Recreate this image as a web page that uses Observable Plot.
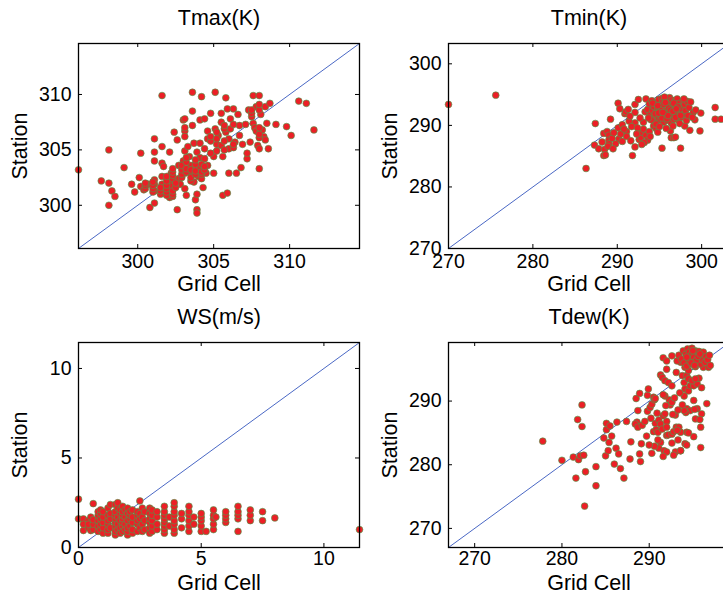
<!DOCTYPE html>
<html><head><meta charset="utf-8">
<script src="https://cdn.jsdelivr.net/npm/d3@7"></script>
<script src="https://cdn.jsdelivr.net/npm/@observablehq/plot@0.6"></script>
<style>
html,body{margin:0;padding:0;background:#fff;overflow:hidden;width:723px;height:598px}
#root{position:relative;width:723px;height:598px;overflow:hidden;background:#fff}
#root svg{position:absolute;overflow:visible}
</style></head><body><div id="root"></div>
<script>
// ---- titles / labels ----
const titles = ["Tmax(K)", "Tmin(K)", "WS(m/s)", "Tdew(K)"];
const xLabel = "Grid Cell";
const yLabel = "Station";

// ---- axis domains and ticks ----
const tmaxDomain = [296.1, 314.6];
const tminDomain = [270, 303.3];
const wsDomain = [0, 11.45];
const tdewDomain = [267.0, 299.2];
const tmaxTicks = [300, 305, 310];
const tminTicks = [270, 280, 290, 300];
const wsTicks = [0, 5, 10];
const tdewTicks = [270, 280, 290];

// ---- data: [grid cell, station] ----
const tmaxPoints = [[296.1,303.2],[297.6,302.2],[298.1,305.0],[298.1,302.0],[298.3,301.3],[298.5,300.8],[298.1,300.0],[299.1,303.4],[299.6,301.9],[299.8,301.2],[300.2,304.7],[300.1,302.5],[300.2,301.7],[300.4,301.4],[300.7,301.9],[300.8,299.8],[301.1,306.0],[301.1,304.8],[301.1,304.0],[301.1,302.3],[301.1,301.9],[301.1,301.3],[301.1,300.2],[301.6,309.9],[301.6,305.3],[301.6,303.8],[301.6,302.6],[301.6,301.9],[301.6,301.1],[301.7,303.5],[302.0,301.4],[302.1,300.7],[302.1,304.8],[302.2,302.9],[302.2,302.1],[302.2,301.7],[302.3,300.8],[302.4,306.6],[302.6,305.9],[302.6,299.6],[302.7,303.6],[302.7,302.4],[302.8,301.9],[303.0,304.0],[303.0,307.7],[303.1,306.7],[303.1,304.9],[303.1,302.9],[303.1,301.5],[303.2,300.9],[303.3,305.3],[303.4,304.4],[303.5,303.6],[303.5,302.9],[303.6,310.2],[303.6,308.5],[303.6,307.2],[303.7,302.1],[303.7,305.6],[303.8,300.5],[303.9,303.4],[303.9,304.8],[303.9,301.0],[303.9,299.6],[303.9,299.3],[304.0,302.6],[304.1,307.7],[304.1,305.6],[304.1,304.3],[304.1,303.4],[304.2,309.8],[304.3,301.6],[304.4,307.8],[304.4,305.1],[304.4,304.2],[304.5,302.9],[304.6,306.7],[304.6,306.0],[304.6,303.6],[304.8,308.3],[305.0,304.4],[305.0,302.9],[305.1,310.2],[305.1,306.9],[305.2,305.5],[305.3,306.3],[305.5,307.5],[305.5,305.4],[305.5,308.3],[305.6,304.4],[305.6,300.9],[305.8,309.7],[305.8,306.6],[305.9,308.7],[305.9,301.1],[306.0,306.0],[306.0,305.1],[306.0,302.9],[306.1,306.9],[306.1,307.8],[306.3,308.7],[306.4,305.7],[306.5,302.9],[306.6,308.2],[306.7,306.3],[306.7,307.2],[306.8,303.4],[306.9,305.5],[307.1,307.3],[307.2,304.2],[307.2,304.7],[307.3,308.6],[307.4,305.7],[307.6,309.9],[307.6,307.4],[307.7,307.0],[307.8,308.9],[307.8,306.7],[307.9,305.4],[308.0,305.1],[308.0,309.9],[308.0,303.3],[308.1,308.2],[308.2,306.8],[308.3,306.2],[308.4,308.9],[308.4,305.9],[308.5,307.4],[308.6,305.1],[308.7,309.2],[309.1,307.3],[309.8,307.1],[310.1,306.3],[310.6,309.4],[311.1,309.2],[311.6,306.8],
[300.5,301.5],[300.5,301.8],[300.5,302.0],[301.0,301.2],[301.0,301.5],[301.0,301.8],[301.0,302.1],[301.5,301.0],[301.5,301.3],[301.5,301.6],[301.9,300.9],[301.9,301.2],[301.9,301.5],[301.9,301.8],[301.9,302.2],[301.9,302.6],[302.3,301.0],[302.3,301.3],[302.3,302.4],[302.3,302.7],[302.3,303.0],[302.3,303.3],[302.5,301.6],[302.5,302.0],[302.9,302.5],[302.9,302.8],[302.9,303.2],[302.9,303.6],[303.2,303.0],[303.2,303.3],[303.2,303.9],[303.2,304.3],[303.5,302.2],[303.5,302.5],[303.5,303.2],[303.8,302.8],[303.8,303.1],[303.8,303.7],[303.8,304.1],[304.2,302.4],[304.2,302.8],[304.2,303.0],[304.2,303.7],[304.4,303.2],[304.4,303.5],[304.8,304.7],[304.8,305.8],[304.8,306.2],[305.2,304.9],[305.2,306.0],[305.2,306.6],[305.7,305.0],[305.7,305.8],[305.7,306.9],[305.7,307.2],[306.3,305.2],[306.3,305.5],[306.3,307.3],[307.5,308.0],[307.5,308.3],[307.5,308.6],[308.0,306.1],[308.0,306.4],[308.0,307.0],[308.0,308.6],[308.0,309.1],[303.1,307.0],[303.1,306.2],[303.1,307.8]];

const tminPoints = [[270.0,293.4],[275.6,294.9],[286.3,283.0],[287.4,290.3],[287.3,286.8],[287.8,286.2],[288.5,286.1],[288.4,285.1],[288.6,285.2],[288.4,288.7],[288.8,289.0],[289.0,288.4],[289.0,287.6],[289.0,287.0],[289.4,287.9],[290.1,293.6],[290.2,287.8],[290.1,289.6],[290.6,290.1],[290.6,287.4],[290.9,291.9],[291.0,292.2],[291.1,289.0],[291.1,288.2],[291.6,287.5],[291.8,285.1],[292.1,286.5],[292.1,290.4],[292.1,292.1],[292.1,293.4],[292.5,294.2],[292.6,287.7],[292.8,288.0],[292.9,288.9],[293.1,290.5],[293.1,289.4],[293.3,292.2],[293.4,288.4],[293.4,294.3],[293.8,289.0],[294.0,292.9],[294.2,291.0],[295.3,286.3],[296.4,288.0],[296.7,288.0],[296.3,289.1],[297.5,286.3],[298.0,289.9],[298.6,289.2],[299.0,292.1],[299.2,290.9],[299.9,292.0],[299.8,289.1],[301.6,292.9],[301.6,291.0],[302.3,291.0],
[288.2,287.3],[288.9,286.6],[289.6,288.8],[289.8,287.0],[290.4,288.6],[290.8,289.4],[291.4,290.7],[291.7,289.8],[291.5,291.5],[292.4,289.6],[292.7,291.2],[292.3,288.6],[293.6,287.6],[293.9,288.2],[294.3,289.9],[294.6,289.5],[294.8,288.9],[293.2,287.2],[292.9,286.9],[289.2,291.0],[290.3,292.7],[291.3,292.6],[289.5,286.2],
[293.6,292.6],[293.8,293.5],[293.9,291.7],[294.1,294.0],[294.2,292.4],[294.3,293.1],[294.4,291.4],[294.5,290.6],[294.6,292.0],[294.7,293.7],[294.8,292.8],[294.9,291.2],[294.9,294.2],[295.0,292.3],[295.1,293.3],[295.1,290.9],[295.2,291.8],[295.3,292.9],[295.3,294.4],[295.4,291.4],[295.4,293.8],[295.5,292.5],[295.5,290.5],[295.6,291.9],[295.6,293.1],[295.7,292.2],[295.7,294.0],[295.8,291.6],[295.8,293.5],[295.9,292.7],[295.9,290.8],[296.0,292.0],[296.0,293.9],[296.1,291.3],[296.1,293.2],[296.2,292.4],[296.2,294.5],[296.3,291.8],[296.3,293.6],[296.4,292.9],[296.4,290.4],[296.5,292.2],[296.5,294.1],[296.6,291.5],[296.6,293.3],[296.7,292.6],[296.7,291.0],[296.8,293.9],[296.8,292.0],[296.9,292.9],[297.0,291.6],[297.0,293.5],[297.1,292.3],[297.1,294.3],[297.2,290.9],[297.3,292.8],[297.3,291.9],[297.4,293.6],[297.5,292.2],[297.6,291.3],[297.6,293.1],[297.7,292.6],[297.8,294.0],[297.9,291.8],[298.0,293.4],[298.1,292.4],[298.2,290.8],[298.3,293.9],[298.4,291.6],[298.5,292.9],[294.0,290.9],[294.6,290.2],[295.0,289.8],[295.8,289.5],[296.6,289.9],[297.4,290.3],[296.9,288.1],[293.7,291.2],[294.2,293.6],[295.6,294.6],[297.9,294.3],[298.9,291.3],[298.7,293.8],[299.3,292.5],
[295.2,292.6],[295.5,293.4],[295.8,292.4],[296.1,292.8],[296.4,291.9],[296.7,293.6],[296.9,291.3],[295.3,291.2],[295.9,291.1],[296.3,292.5],[294.8,293.2],[294.5,291.9],[297.2,293.0],[297.5,291.6],[296.0,291.6],[295.7,293.7],[294.9,292.0],[295.4,292.1],[296.6,292.3],[297.0,292.7]];

const wsPoints = [[0,2.7],[0,1.6],[0.2,0.95],[0.2,1.6],[0.2,1.3],[0.4,1.5],[0.4,1.1],[0.4,1.3],[0.5,1.7],[0.5,0.95],[0.6,2.45],[0.6,1.0],[0.6,1.3],[0.6,1.55],
[0.8,0.9],[0.8,1.2],[0.8,1.5],[0.8,1.8],[0.8,2.0],[0.9,1.0],[0.9,1.3],[0.9,1.6],[0.9,1.9],[0.9,2.1],[1.0,0.8],[1.0,1.1],[1.0,1.4],[1.0,1.7],[1.0,2.0],
[1.2,0.8],[1.2,1.0],[1.2,1.3],[1.2,1.5],[1.2,1.8],[1.2,2.2],[1.3,1.1],[1.3,1.6],[1.3,2.4],[1.3,1.9],
[1.5,0.7],[1.5,0.9],[1.5,1.2],[1.5,1.4],[1.5,1.6],[1.5,1.8],[1.5,2.0],[1.5,2.4],[1.6,1.0],[1.6,1.3],[1.6,1.7],[1.6,2.2],[1.6,2.5],
[1.7,0.8],[1.7,1.1],[1.7,1.5],[1.7,1.9],[1.7,2.1],[1.8,0.9],[1.8,1.2],[1.8,1.4],[1.8,1.6],[1.8,1.8],[1.8,2.0],[1.8,2.3],[1.9,1.0],[1.9,1.3],[1.9,1.7],[1.9,2.1],
[2.0,0.7],[2.0,0.9],[2.0,1.1],[2.0,1.5],[2.0,1.9],[2.0,2.2],[2.1,1.2],[2.1,1.6],[2.1,1.8],[2.1,2.0],[2.2,0.8],[2.2,1.0],[2.2,1.4],[2.2,1.7],[2.2,2.1],
[2.4,0.9],[2.4,1.3],[2.4,1.5],[2.4,1.8],[2.4,2.0],[2.5,1.1],[2.5,1.6],[2.5,2.6],[2.5,1.9],[2.6,0.9],[2.6,1.3],[2.6,1.7],[2.6,2.2],[2.7,1.0],[2.7,1.5],[2.7,2.0],
[2.9,0.8],[2.9,1.1],[2.9,1.4],[2.9,1.6],[2.9,1.9],[2.9,2.2],[3.0,0.9],[3.0,1.2],[3.0,1.5],[3.0,1.8],[3.0,2.1],[3.2,1.0],[3.2,1.3],[3.2,1.7],[3.2,2.0],
[3.5,0.8],[3.5,1.0],[3.5,1.2],[3.5,1.4],[3.5,1.6],[3.5,1.8],[3.5,2.0],[3.5,2.3],[3.7,1.7],[3.7,1.2],
[3.9,0.8],[3.9,1.0],[3.9,1.3],[3.9,1.5],[3.9,1.8],[3.9,2.0],[3.9,2.3],[3.9,2.5],[4.2,1.1],[4.2,1.6],[4.2,1.9],
[4.5,0.9],[4.5,1.2],[4.5,1.5],[4.5,1.8],[4.5,2.0],[4.5,2.3],[4.7,1.7],[4.7,1.3],[5.0,0.9],[5.0,1.2],[5.0,1.5],[5.0,1.7],[5.0,1.9],[5.2,0.9],
[5.5,1.0],[5.5,1.3],[5.5,1.6],[5.5,1.8],[5.5,2.1],[5.6,1.7],[6.0,1.4],[6.0,1.6],[6.0,1.8],[6.0,2.0],[6.5,0.9],[6.5,1.6],[6.5,1.8],[6.5,2.0],[6.5,2.3],
[7.0,1.5],[7.0,1.8],[7.0,2.1],[7.5,1.5],[7.5,2.0],[8.0,1.65],[11.45,1.0]];

const tdewPoints = [[277.8,283.7],[280.0,280.7],[281.3,281.2],[281.9,280.8],[282.1,281.4],[282.5,281.5],[282.3,289.4],[281.8,287.1],[282.3,286.0],[282.7,278.9],[281.6,277.9],[282.6,273.5],[283.9,279.7],[283.9,276.7],[284.8,284.2],[285.0,281.4],[285.1,286.5],[285.1,285.5],[285.5,286.1],[285.4,283.5],[285.7,284.5],[286.3,286.7],[286.0,280.1],[286.2,282.6],[286.5,281.7],[286.7,279.4],[285.3,282.2],[287.1,277.9],[287.4,286.8],[287.9,283.6],[287.8,280.9],[288.5,290.4],[288.6,286.7],[288.4,286.4],[288.7,285.9],[288.9,291.2],[289.1,283.3],[288.9,281.7],[289.0,280.5],[288.7,288.5],[289.2,286.2],[289.8,290.9],[289.8,288.4],[290.1,289.0],[290.3,289.5],[290.5,290.6],[290.6,290.2],[290.7,286.5],[290.5,285.2],[291.6,287.7],
[291.1,287.0],[291.3,286.4],[290.8,285.5],[291.0,285.1],[291.5,285.6],[291.8,288.0],[292.0,286.8],[292.0,285.9],[291.3,283.5],[291.1,282.6],[291.7,282.2],[292.0,284.6],[292.2,284.7],[292.6,284.8],[292.8,285.2],[293.1,285.9],[293.4,285.9],[293.0,287.8],[292.3,290.2],[292.4,289.4],[292.6,289.8],[291.8,290.8],[291.6,291.0],[290.7,290.4],[289.9,291.9],
[293.6,285.1],[294.1,283.3],[293.6,282.2],[293.0,282.0],[292.0,282.0],[294.3,288.8],[294.7,288.5],[295.1,290.1],[294.2,288.2],[294.0,288.5],[295.5,288.8],[295.3,287.2],[295.9,285.9],[295.9,282.7],[296.0,288.0],[296.6,289.6],[294.3,285.1],
[291.6,296.8],[292.0,296.3],[292.6,297.1],[292.0,295.0],[291.3,294.1],[291.5,293.7],[291.8,293.2],[292.2,292.9],[293.1,294.5],[292.6,292.4],[293.8,294.0],[294.0,292.9],[294.1,291.9],[294.0,290.8],[294.5,291.6],[294.7,292.4],[295.1,292.4],[295.5,292.7],[296.0,292.1],[295.7,293.6],[296.2,295.3],[296.8,295.3],[294.3,294.0],[294.5,293.5],[294.9,293.2],[295.3,293.5],[294.1,295.3],[294.5,294.8],[293.6,296.1],[293.2,296.3],
[293.4,297.2],[293.7,296.6],[293.9,297.9],[294.0,296.0],[294.2,297.4],[294.3,295.5],[294.4,298.2],[294.5,296.7],[294.6,297.7],[294.7,296.2],[294.8,297.1],[294.9,295.8],[294.9,298.3],[295.0,296.6],[295.1,297.5],[295.2,296.1],[295.3,297.9],[295.3,295.4],[295.4,296.9],[295.5,297.4],[295.6,296.3],[295.7,297.8],[295.8,296.8],[295.9,295.8],[296.0,297.3],[296.1,296.5],[296.2,297.7],[296.4,296.1],[296.5,297.0],[296.7,296.5],[296.9,297.2],[297.0,295.6],[294.6,296.3],[294.9,297.4],[295.1,296.9],[295.4,296.4],[295.6,297.0],[295.0,297.9],[294.3,296.9],[295.8,297.4],[294.8,296.0],[295.2,295.6],
[295.1,284.4],[294.5,285.0],[294.3,283.1],[293.6,282.2],[293.2,285.4],[295.2,288.7],[295.8,287.1],
[291.0,283.9],[291.6,281.3],[290.6,282.9],[290.3,281.8],[289.7,284.5],[290.0,283.1],[292.6,283.4],[293.3,283.9],[292.8,281.5],[289.5,286.8],[290.2,287.3],[290.9,288.1],[291.9,289.3],[292.9,290.5],[293.5,291.3],[293.8,289.4],[293.3,288.6],[292.7,287.9]];

// ---- styling ----
const FONT = "'Liberation Sans', Arial, Helvetica, sans-serif";
const TICK_FS = 19.5, LABEL_FS = 21.5;
const FW = 281, FH = 205;

function panel({points, domain, ticks, title, left, top, ml, mt, mb, mr, tickDy}) {
  const width = ml + FW + mr;
  const height = mt + FH + mb;
  const svg = Plot.plot({
    width, height,
    marginLeft: ml, marginTop: mt, marginBottom: mb, marginRight: mr,
    x: {domain, axis: null},
    y: {domain, axis: null},
    style: {fontFamily: FONT, fontSize: TICK_FS + "px", color: "black", background: "transparent", overflow: "visible"},
    marks: [
      Plot.line(domain.map(v => [v, v]), {stroke: "#4a68c5", strokeWidth: 1}),
      Plot.dot(points, {x: d => d[0], y: d => d[1], r: 3.4, fill: "#ec1f26", stroke: "#45a04e", strokeWidth: 0.6}),
      Plot.tickX(ticks, {x: d => d, insetTop: FH - 4, stroke: "black", strokeWidth: 1}),
      Plot.tickX(ticks, {x: d => d, insetBottom: FH - 4, stroke: "black", strokeWidth: 1}),
      Plot.tickY(ticks, {y: d => d, insetRight: FW - 4, stroke: "black", strokeWidth: 1}),
      Plot.tickY(ticks, {y: d => d, insetLeft: FW - 4, stroke: "black", strokeWidth: 1}),
      Plot.text(ticks, {x: d => d, text: d => String(d), frameAnchor: "bottom", lineAnchor: "middle", textAnchor: "middle", dy: tickDy, fontSize: TICK_FS, fill: "black"}),
      Plot.text(ticks, {y: d => d, text: d => String(d), frameAnchor: "left", lineAnchor: "middle", dx: -7, textAnchor: "end", fontSize: TICK_FS, fill: "black"}),
      Plot.text([xLabel], {text: d => d, frameAnchor: "bottom", lineAnchor: "middle", textAnchor: "middle", dy: 35.5, fontSize: LABEL_FS, fill: "black"}),
      Plot.text([yLabel], {text: d => d, frameAnchor: "left", lineAnchor: "middle", textAnchor: "middle", dx: -58, rotate: -90, fontSize: LABEL_FS, fill: "black"}),
      Plot.text([title], {text: d => d, frameAnchor: "top", lineAnchor: "middle", textAnchor: "middle", dy: -25, fontSize: LABEL_FS, fill: "black"}),
      Plot.frame({stroke: "black", strokeWidth: 1.3})
    ]
  });
  svg.style.left = left + "px";
  svg.style.top = top + "px";
  return svg;
}

const root = document.getElementById("root");
root.appendChild(panel({points: tmaxPoints, domain: tmaxDomain, ticks: tmaxTicks, title: titles[0], left: 0, top: 0, ml: 78, mt: 43, mb: 52, mr: 4, tickDy: 13.5}));
root.appendChild(panel({points: tminPoints, domain: tminDomain, ticks: tminTicks, title: titles[1], left: 362, top: 0, ml: 86, mt: 43, mb: 52, mr: 10, tickDy: 13.5}));
root.appendChild(panel({points: wsPoints, domain: wsDomain, ticks: wsTicks, title: titles[2], left: 0, top: 300, ml: 78, mt: 42, mb: 51, mr: 4, tickDy: 11.5}));
root.appendChild(panel({points: tdewPoints, domain: tdewDomain, ticks: tdewTicks, title: titles[3], left: 362, top: 300, ml: 86, mt: 42, mb: 51, mr: 10, tickDy: 11.5}));
</script>
</body></html>
